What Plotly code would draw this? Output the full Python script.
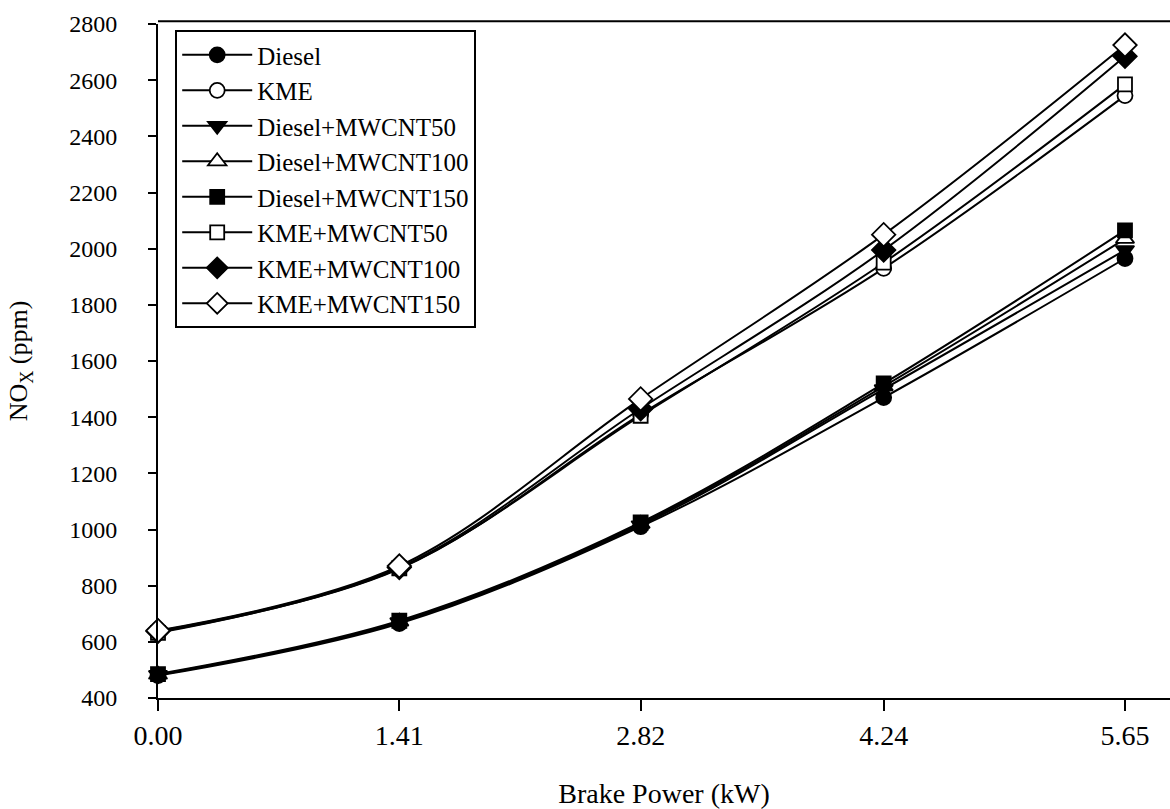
import plotly.graph_objects as go

power = [0.00, 1.41, 2.82, 4.24, 5.65]
tick_labels = ["0.00", "1.41", "2.82", "4.24", "5.65"]

diesel = [480, 665, 1010, 1470, 1965]
kme = [635, 860, 1410, 1930, 2545]
diesel_mw50 = [482, 670, 1015, 1500, 1995]
diesel_mw100 = [483, 672, 1020, 1510, 2035]
diesel_mw150 = [485, 675, 1025, 1520, 2065]
kme_mw50 = [632, 862, 1405, 1950, 2585]
kme_mw100 = [638, 865, 1430, 1995, 2685]
kme_mw150 = [640, 870, 1465, 2050, 2725]

series = [
    ("Diesel", diesel, "circle", "black", 15),
    ("KME", kme, "circle", "white", 15),
    ("Diesel+MWCNT50", diesel_mw50, "triangle-down", "black", 16),
    ("Diesel+MWCNT100", diesel_mw100, "triangle-up", "white", 16),
    ("Diesel+MWCNT150", diesel_mw150, "square", "black", 14),
    ("KME+MWCNT50", kme_mw50, "square", "white", 14),
    ("KME+MWCNT100", kme_mw100, "diamond", "black", 18),
    ("KME+MWCNT150", kme_mw150, "diamond", "white", 18),
]

FONT = "Times New Roman"

fig = go.Figure()
for name, vals, sym, fill, size in series:
    fig.add_trace(go.Scatter(
        x=power, y=vals, name=name, mode="lines+markers",
        line=dict(color="black", width=2, shape="spline", smoothing=1.0),
        marker=dict(symbol=sym, size=size, color=fill,
                    line=dict(color="black", width=1.8)),
        cliponaxis=False,
    ))

fig.update_layout(
    width=1170, height=809,
    margin=dict(l=158, r=0, t=24, b=111),
    paper_bgcolor="white", plot_bgcolor="white",
    font=dict(family=FONT, color="black", size=22),
    showlegend=True,
    legend=dict(
        x=0.017, y=0.991, xanchor="left", yanchor="top",
        bordercolor="black", borderwidth=2, bgcolor="white",
        font=dict(family=FONT, size=25, color="black"),
        itemwidth=70, tracegroupgap=0,
    ),
    xaxis=dict(
        range=[0, 5.913], tickmode="array", tickvals=power, ticktext=tick_labels,
        showline=True, linecolor="black", linewidth=2,
        ticks="outside", ticklen=11, tickwidth=1.5, tickcolor="black",
        showgrid=False, zeroline=False,
        tickfont=dict(family=FONT, size=28),
        title=dict(text="Brake Power (kW)", font=dict(family=FONT, size=28), standoff=36),
    ),
    yaxis=dict(
        range=[400, 2800], tickmode="array",
        tickvals=list(range(400, 2801, 200)),
        showline=True, linecolor="black", linewidth=2,
        ticks="outside", ticklen=8, tickwidth=1.5, tickcolor="black",
        ticklabelstandoff=26,
        showgrid=False, zeroline=False,
        tickfont=dict(family=FONT, size=24),
        title=dict(text="NO<sub>X</sub> (ppm)", font=dict(family=FONT, size=26), standoff=34),
    ),
    shapes=[dict(type="line", xref="paper", yref="paper", x0=0, x1=1,
                 y0=1.004, y1=1.004, line=dict(color="black", width=2))],
)

fig.write_html("out.html")
